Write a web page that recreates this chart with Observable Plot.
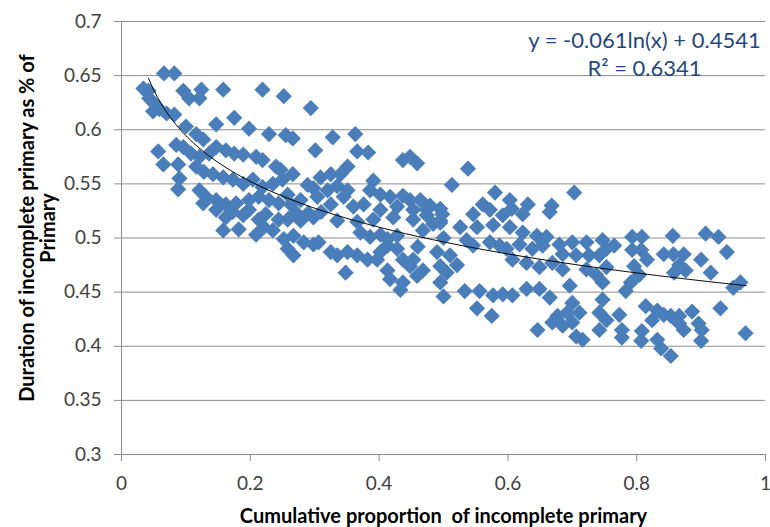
<!DOCTYPE html>
<html>
<head>
<meta charset="utf-8">
<script src="https://cdn.jsdelivr.net/npm/d3@7"></script>
<script src="https://cdn.jsdelivr.net/npm/@observablehq/plot@0.6"></script>
<style>
  html, body { margin: 0; padding: 0; background: #ffffff; }
  #chart { width: 770px; height: 527px; }
</style>
</head>
<body>
<div id="chart"></div>
<script>
// [cumulative proportion of incomplete primary, duration as share of primary]
const band0to025 = [
  [.066,.652],[.082,.652],[.042,.636],[.034,.638],[.043,.629],[.051,.624],[.059,.619],[.049,.617],
  [.070,.615],[.082,.614],[.096,.636],[.105,.629],[.124,.637],[.121,.629],[.158,.637],[.219,.637],
  [.175,.611],[.147,.605],[.198,.601],[.229,.596],[.100,.603],[.116,.596],[.127,.591],[.085,.586],
  [.096,.584],[.108,.578],[.121,.575],[.136,.578],[.147,.584],[.162,.581],[.175,.578],[.189,.577],
  [.209,.575],[.219,.572],[.240,.566],[.057,.580],[.065,.568],[.088,.568],[.090,.555],[.088,.545],
  [.116,.566],[.128,.561],[.142,.559],[.158,.556],[.173,.554],[.189,.550],[.204,.554],[.219,.547],
  [.235,.550],[.250,.554],[.121,.544],[.131,.538],[.147,.535],[.162,.531],[.178,.532],[.198,.535],
  [.213,.538],[.229,.535],[.244,.532],[.127,.532],[.147,.526],[.173,.524],[.198,.526],[.224,.522],
  [.158,.507],[.182,.508],[.209,.503],[.221,.510],[.235,.507],[.189,.521],[.162,.519],[.213,.517],
  [.244,.517]
];
const band025to050 = [
  [.252,.631],[.294,.620],[.255,.595],[.266,.592],[.301,.581],[.328,.593],[.363,.596],[.366,.580],
  [.383,.579],[.437,.572],[.459,.569],[.448,.575],[.351,.566],[.340,.559],[.266,.559],[.247,.563],
  [.309,.556],[.325,.559],[.289,.549],[.298,.546],[.320,.544],[.335,.548],[.351,.544],[.391,.553],
  [.386,.544],[.402,.540],[.417,.538],[.437,.539],[.448,.535],[.464,.535],[.479,.530],[.495,.527],
  [.258,.540],[.278,.535],[.263,.531],[.304,.538],[.325,.531],[.345,.538],[.360,.529],[.376,.531],
  [.402,.526],[.428,.529],[.453,.526],[.474,.526],
  [.335,.516],[.366,.515],[.391,.517],[.422,.519],[.453,.517],[.474,.521],[.495,.516],
  [.252,.499],[.267,.502],[.283,.496],[.298,.494],[.306,.496],[.258,.490],[.267,.484],
  [.325,.487],[.335,.484],[.351,.487],[.366,.484],[.382,.480],[.397,.480],[.402,.487],[.413,.493],
  [.428,.490],[.348,.468],[.413,.470],[.417,.462],[.437,.459],[.433,.452],[.459,.465],[.448,.474],
  [.468,.470],[.437,.480],[.453,.480],[.490,.487],[.495,.474],[.505,.468],[.500,.446],[.495,.459],
  [.258,.517],[.278,.516],[.298,.519],[.371,.505],[.386,.501],[.402,.503],[.413,.499],[.428,.502],
  [.270,.524],[.290,.523],[.310,.524],[.468,.507],[.484,.513],[.500,.500],[.460,.492]
];
const band050to075 = [
  [.538,.564],[.513,.549],[.580,.542],[.603,.535],[.631,.531],[.668,.530],[.703,.542],[.561,.531],
  [.572,.526],[.606,.527],[.623,.522],[.546,.522],[.498,.522],
  [.592,.521],[.665,.524],[.495,.514],[.526,.510],[.552,.510],[.577,.512],[.603,.510],[.623,.505],
  [.645,.502],[.660,.501],[.536,.498],[.546,.493],[.572,.496],[.587,.493],[.598,.490],[.618,.494],
  [.638,.490],[.654,.493],[.680,.494],[.700,.496],[.722,.496],[.747,.498],[.753,.490],[.685,.485],
  [.706,.484],[.726,.484],[.742,.484],[.607,.480],[.629,.477],[.649,.473],[.669,.477],[.685,.471],
  [.722,.471],[.737,.466],[.753,.473],[.510,.484],[.521,.475],
  [.533,.451],[.556,.451],[.552,.435],[.575,.428],[.577,.447],[.592,.448],[.607,.447],[.629,.453],
  [.649,.453],[.665,.445],[.696,.456],[.700,.440],[.711,.431],[.692,.431],[.677,.428],[.669,.422],
  [.685,.419],[.700,.422],[.706,.409],[.716,.406],[.742,.415],[.742,.431],[.747,.443],[.753,.424],
  [.646,.415]
];
const band075to100 = [
  [.793,.501],[.808,.501],[.856,.502],[.907,.504],[.927,.501],[.940,.487],[.765,.493],[.793,.489],
  [.807,.489],[.816,.480],[.842,.485],[.857,.485],[.873,.485],[.900,.480],[.866,.475],[.858,.468],
  [.876,.470],[.915,.468],[.796,.474],[.804,.466],[.747,.459],[.783,.451],[.791,.459],[.950,.454],
  [.961,.459],[.930,.435],[.773,.429],[.814,.437],[.832,.433],[.842,.429],[.853,.428],[.866,.428],
  [.886,.432],[.896,.421],[.901,.415],[.824,.424],[.866,.421],[.873,.415],[.969,.412],[.777,.415],
  [.777,.408],[.808,.414],[.807,.405],[.832,.406],[.838,.398],[.853,.391],[.900,.405]
];

const xTicks = [0, 0.2, 0.4, 0.6, 0.8, 1];
const yTicks = [0.3, 0.35, 0.4, 0.45, 0.5, 0.55, 0.6, 0.65, 0.7];

// logarithmic trendline as printed on the chart
const fitSlope = -0.061;
const fitIntercept = 0.4541;
const fitXStart = 0.042;
const fitXEnd = 0.97;
const equationText = "y = -0.061ln(x) + 0.4541";
const rSquaredText = "R\u00b2 = 0.6341";

const xTitle = "Cumulative proportion  of incomplete primary";
const yTitleLine1 = "Duration of incomplete primary as % of";
const yTitleLine2 = "Primary";

const points = [...band0to025, ...band025to050, ...band050to075, ...band075to100]
  .map(([x, y]) => ({x, y}));

const trend = d3.range(0, 201).map(i => {
  const x = fitXStart + (fitXEnd - fitXStart) * i / 200;
  return {x, y: fitSlope * Math.log(x) + fitIntercept};
});

const gridColor = "#8c8c8c";
const textColor = "#404040";
const font = "Lato, 'Open Sans', sans-serif";

const chart = Plot.plot({
  width: 770,
  height: 527,
  marginLeft: 121,
  marginRight: 5,
  marginTop: 21,
  marginBottom: 73,
  style: {fontFamily: font, background: "#ffffff", color: textColor},
  x: {domain: [0, 1]},
  y: {domain: [0.3, 0.7]},
  marks: [
    Plot.ruleY(yTicks, {stroke: gridColor, strokeWidth: 1}),
    Plot.ruleX([0], {stroke: gridColor, strokeWidth: 1}),
    Plot.axisY(yTicks, {
      tickSize: 7, tickPadding: 13, stroke: gridColor, fill: textColor,
      fontSize: 19, label: null, tickFormat: d => String(+d.toFixed(2))
    }),
    Plot.axisX(xTicks, {
      tickSize: 7, tickPadding: 15, stroke: gridColor, fill: textColor,
      fontSize: 19, label: null, tickFormat: d => String(d)
    }),
    Plot.dot(points, {x: "x", y: "y", symbol: "diamond2", r: 7.3, fill: "#4a7ebb", stroke: "none"}),
    Plot.line(trend, {x: "x", y: "y", stroke: "#000000", strokeWidth: 1}),
    Plot.text([equationText], {frameAnchor: "top-right", dx: -121, dy: 19, text: d => d,
      fontSize: 22, fill: "#1f497d", textAnchor: "middle", lineAnchor: "middle"}),
    Plot.text([rSquaredText], {frameAnchor: "top-right", dx: -121, dy: 47, text: d => d,
      fontSize: 22, fill: "#1f497d", textAnchor: "middle", lineAnchor: "middle"}),
    Plot.text([xTitle], {frameAnchor: "bottom", dy: 62, text: d => d,
      fontSize: 20, fontWeight: "bold", fill: "#000000", textAnchor: "middle", lineAnchor: "middle"}),
    Plot.text([yTitleLine1], {frameAnchor: "left", dx: -94, dy: -10, rotate: -90, text: d => d,
      fontSize: 20, fontWeight: "bold", fill: "#000000", textAnchor: "middle", lineAnchor: "middle"}),
    Plot.text([yTitleLine2], {frameAnchor: "left", dx: -73, dy: -10, rotate: -90, text: d => d,
      fontSize: 20, fontWeight: "bold", fill: "#000000", textAnchor: "middle", lineAnchor: "middle"})
  ]
});

document.getElementById("chart").appendChild(chart);
</script>
</body>
</html>
